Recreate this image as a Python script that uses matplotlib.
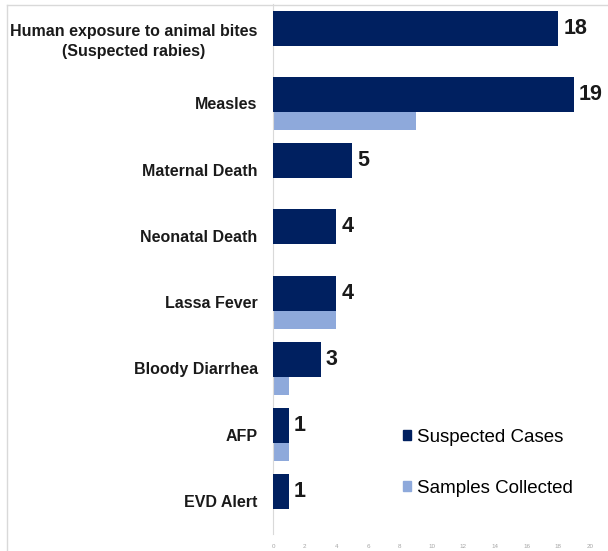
import matplotlib
matplotlib.use("Agg")
import matplotlib.pyplot as plt
from matplotlib.patches import Patch
from matplotlib.lines import Line2D
import numpy as np

categories = ["Human exposure to animal bites\n(Suspected rabies)", "Measles", "Maternal Death",
              "Neonatal Death", "Lassa Fever", "Bloody Diarrhea", "AFP", "EVD Alert"]
suspected = [18, 19, 5, 4, 4, 3, 1, 1]
samples = [0, 9, 0, 0, 4, 1, 1, 0]
xticks = [0, 2, 4, 6, 8, 10, 12, 14, 16, 18, 20]

dark = "#002060"
light = "#8EA9DB"

plt.rcParams['font.family'] = ['Liberation Sans', 'DejaVu Sans']

W, H = 608, 551
fig = plt.figure(figsize=(W / 100, H / 100), dpi=100)
ax = fig.add_axes([273 / W, 17 / H, (590 - 273) / W, (534 - 4) / H])

pos = np.arange(len(categories))
h = 0.53
off = 0.135
ax.barh(pos + off, samples, height=h, color=light, zorder=2)
ax.barh(pos - off, suspected, height=h, color=dark, zorder=3)

for p, v in zip(pos, suspected):
    ax.annotate(str(v), (v, p - off), xytext=(3.5, 0), textcoords="offset points",
                ha="left", va="center", fontsize=15.5, fontweight="bold", color="#1a1a1a")

ax.set_xlim(0, 20)
ax.set_ylim(len(categories) - 0.5, -0.5)
ax.set_yticks(pos)
ax.set_yticklabels(categories, fontsize=11.5, fontweight="bold", color="#1a1a1a",
                   multialignment="center", linespacing=1.45)
ax.set_xticks(xticks)
ax.set_xticklabels([str(t) for t in xticks], fontsize=4.5, color="#A6A6A6")
ax.tick_params(axis="y", length=0, pad=11)
ax.tick_params(axis="x", length=0, pad=7)
for s in ["top", "right", "bottom"]:
    ax.spines[s].set_visible(False)
ax.spines["left"].set_color("#D9D9D9")
ax.spines["left"].set_linewidth(0.8)

handles = [Patch(color=dark, label="Suspected Cases"), Patch(color=light, label="Samples Collected")]
fig.legend(handles=handles, loc="upper left", bbox_to_anchor=(403 / W, 1 - 429 / H),
           bbox_transform=fig.transFigure, frameon=False, fontsize=13.5,
           handlelength=0.45, handleheight=0.45, handletextpad=0.3,
           labelspacing=1.8, borderpad=0, borderaxespad=0)

# outer frame lines
fig.add_artist(Line2D([7 / W, 1], [1 - 5 / H, 1 - 5 / H], transform=fig.transFigure,
                      color="#D9D9D9", lw=1))
fig.add_artist(Line2D([7 / W, 7 / W], [0, 1 - 5 / H], transform=fig.transFigure,
                      color="#D9D9D9", lw=1))

fig.savefig("out.png", dpi=100)
